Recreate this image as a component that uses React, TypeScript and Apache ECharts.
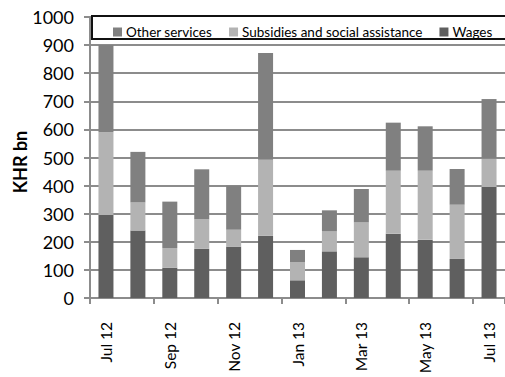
import React, { useEffect, useRef } from "react";
import * as echarts from "echarts";

const months = [
  "Jul 12", "Aug 12", "Sep 12", "Oct 12", "Nov 12", "Dec 12",
  "Jan 13", "Feb 13", "Mar 13", "Apr 13", "May 13", "Jun 13", "Jul 13",
];
const wages = [295, 240, 108, 175, 183, 222, 63, 166, 145, 229, 207, 139, 395];
const subsidies = [295, 100, 70, 105, 60, 270, 65, 71, 124, 224, 246, 193, 101];
const otherServices = [310, 180, 165, 178, 157, 380, 43, 75, 119, 171, 158, 127, 212];

const FONT = "Lato, 'Open Sans', sans-serif";

export default function App() {
  const ref = useRef<HTMLDivElement>(null);

  useEffect(() => {
    if (!ref.current) return;
    const chart = echarts.init(ref.current, undefined, { renderer: "svg" });
    const barW = 15;
    chart.setOption({
      animation: false,
      backgroundColor: "#ffffff",
      textStyle: { fontFamily: FONT },
      grid: { left: 90, top: 17, right: -4, bottom: 79, containLabel: false },
      graphic: [
        {
          type: "rect",
          z: 50,
          shape: { x: 92, y: 16, width: 420, height: 23 },
          style: { fill: "#ffffff", stroke: "#111111", lineWidth: 2 },
        },
        {
          type: "text",
          rotation: Math.PI / 2,
          x: 11,
          y: 162,
          style: {
            text: "KHR bn",
            font: `bold 18px ${FONT}`,
            fill: "#000000",
            align: "center",
            verticalAlign: "top",
          },
        },
      ],
      legend: {
        z: 60,
        left: 108,
        top: 20,
        width: 420,
        itemWidth: 9,
        itemHeight: 9,
        itemGap: 17,
        icon: "rect",
        textStyle: { fontSize: 13.5, color: "#000", fontFamily: FONT, padding: [0, 0, 0, -1] },
        data: ["Other services", "Subsidies and social assistance", "Wages"],
      },
      xAxis: {
        type: "category",
        data: months,
        axisLine: { lineStyle: { color: "#8c8c8c", width: 2 } },
        axisTick: { show: true, interval: 1, length: 6, lineStyle: { color: "#8c8c8c", width: 2 } },
        axisLabel: {
          interval: 1,
          rotate: 90,
          margin: 24,
          fontSize: 15.5,
          color: "#000",
          fontFamily: FONT,
        },
      },
      yAxis: {
        type: "value",
        min: 0,
        max: 1000,
        interval: 100,
        axisLine: { show: true, lineStyle: { color: "#8c8c8c", width: 2 } },
        axisTick: { show: true, length: 6, lineStyle: { color: "#8c8c8c", width: 2 } },
        splitLine: { lineStyle: { color: "#8c8c8c", width: 2 } },
        axisLabel: {
          fontSize: 18,
          color: "#000",
          margin: 16,
          fontFamily: FONT,
          formatter: (v: number) => String(v),
        },
      },
      series: [
        {
          name: "Wages",
          type: "bar",
          stack: "total",
          barWidth: barW,
          data: wages,
          itemStyle: { color: "#5f5f5f" },
        },
        {
          name: "Subsidies and social assistance",
          type: "bar",
          stack: "total",
          barWidth: barW,
          data: subsidies,
          itemStyle: { color: "#b3b3b3" },
        },
        {
          name: "Other services",
          type: "bar",
          stack: "total",
          barWidth: barW,
          data: otherServices,
          itemStyle: { color: "#808080" },
        },
      ],
    });
    return () => chart.dispose();
  }, []);

  return (
    <div
      ref={ref}
      style={{ position: "absolute", left: 0, top: 0, width: 505, height: 377 }}
    />
  );
}
